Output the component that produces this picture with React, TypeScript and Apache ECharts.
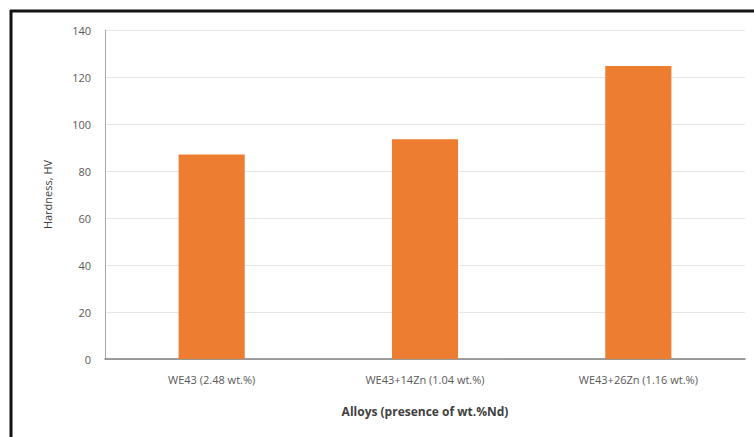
import React, { useEffect, useRef } from "react";
import * as echarts from "echarts";

const categories = ["WE43 (2.48 wt.%)", "WE43+14Zn (1.04 wt.%)", "WE43+26Zn (1.16 wt.%)"];
const hardness = [87, 93.5, 124.7];
const yTicks = { min: 0, max: 140, interval: 20 };

export default function App() {
  const ref = useRef<HTMLDivElement>(null);
  useEffect(() => {
    const chart = echarts.init(ref.current!, null, { renderer: "svg" });
    const font = "'Open Sans', 'Liberation Sans', sans-serif";
    chart.setOption({
      animation: false,
      backgroundColor: "#ffffff",
      grid: { left: 105, right: 9, top: 30, bottom: 78 },
      xAxis: {
        type: "category",
        data: categories,
        name: "Alloys (presence of wt.%Nd)",
        nameLocation: "middle",
        nameGap: 46,
        nameTextStyle: { fontFamily: font, fontSize: 12, fontWeight: "bold", color: "#404040" },
        axisLine: { lineStyle: { color: "#7f7f7f", width: 1.5 } },
        axisTick: { show: false },
        axisLabel: { fontFamily: font, fontSize: 11, color: "#595959", margin: 15 },
      },
      yAxis: {
        type: "value",
        min: yTicks.min,
        max: yTicks.max,
        interval: yTicks.interval,
        name: "Hardness, HV",
        nameLocation: "middle",
        nameGap: 52,
        nameTextStyle: { fontFamily: font, fontSize: 11, color: "#404040" },
        axisLine: { show: true, lineStyle: { color: "#a6a6a6", width: 1 } },
        axisTick: { show: false },
        axisLabel: { fontFamily: font, fontSize: 11, color: "#595959", margin: 14 },
        splitLine: { lineStyle: { color: "#e6e6e6", width: 1 } },
      },
      series: [
        {
          type: "bar",
          data: hardness,
          barWidth: "31%",
          itemStyle: { color: "#ED7D31" },
        },
      ],
      graphic: [
        { type: "line", shape: { x1: 11, y1: 10, x2: 11, y2: 437 }, style: { stroke: "#111", lineWidth: 3 } },
        { type: "line", shape: { x1: 10, y1: 11, x2: 754, y2: 11 }, style: { stroke: "#111", lineWidth: 3 } },
      ],
    });
    return () => chart.dispose();
  }, []);
  return <div ref={ref} style={{ position: "fixed", left: 0, top: 0, width: 754, height: 437 }} />;
}
